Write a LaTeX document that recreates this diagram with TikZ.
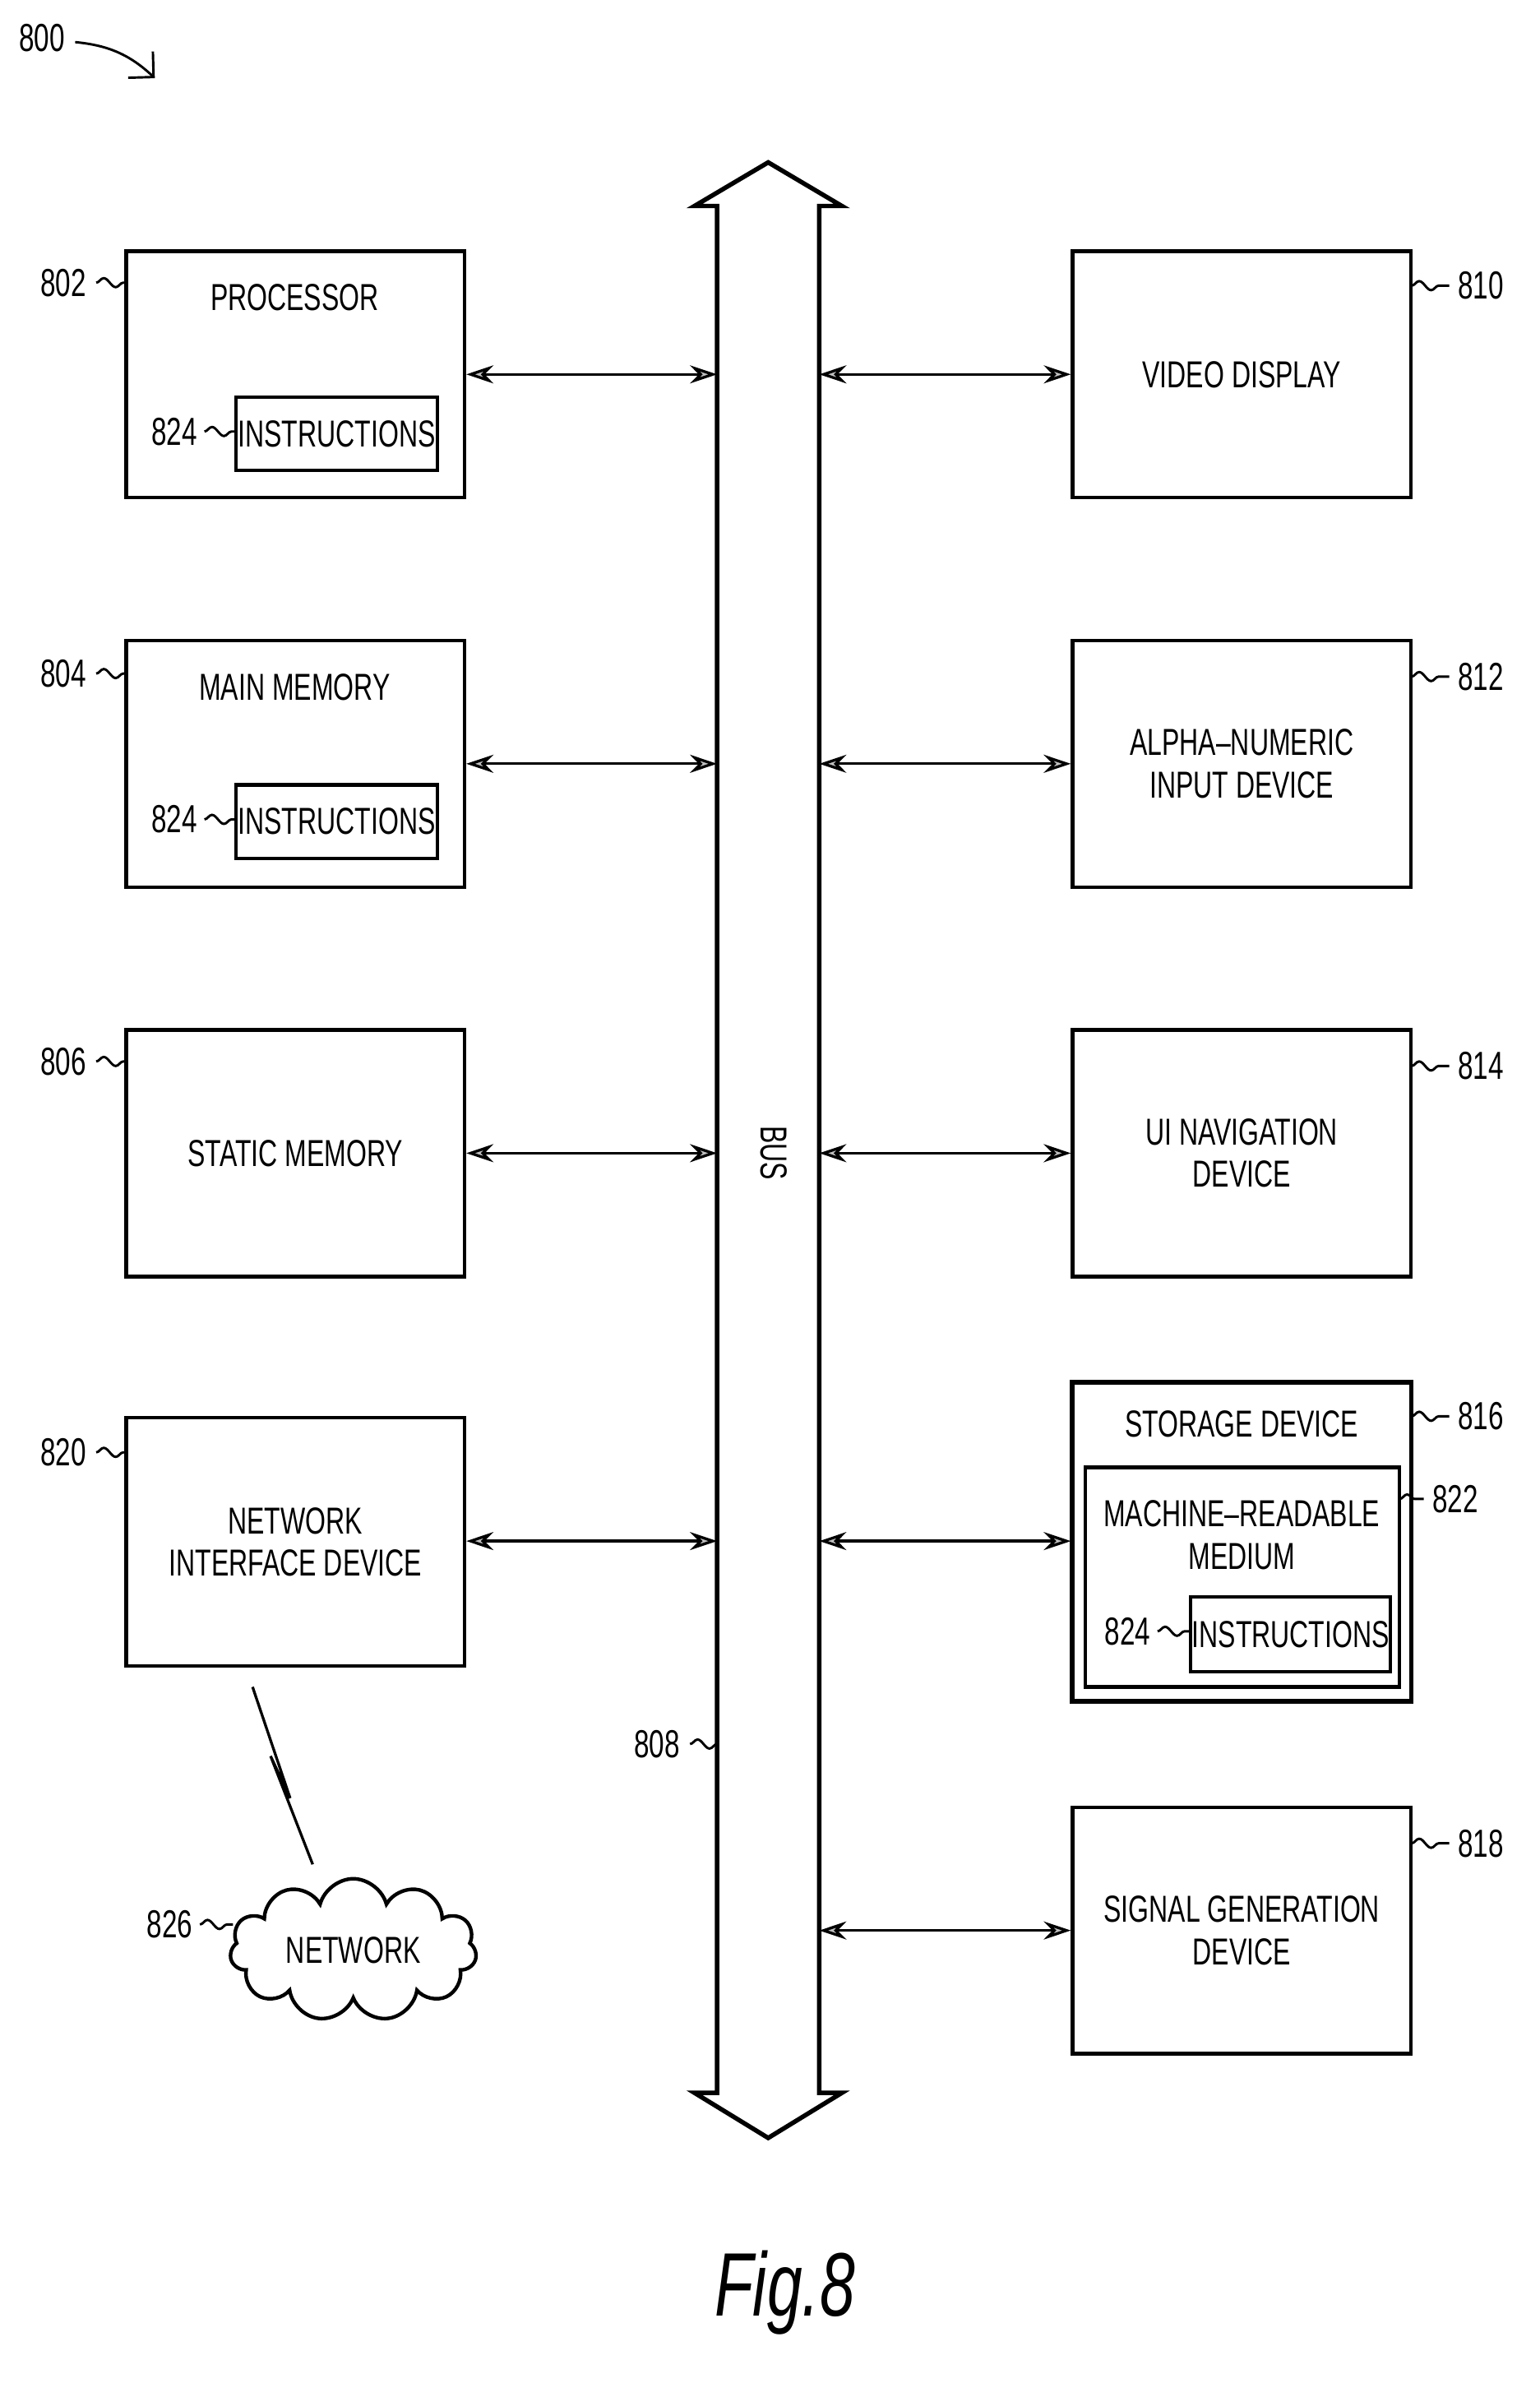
\documentclass[tikz,border=0pt]{standalone}
\usepackage{fontspec}
\setmainfont[FakeStretch=0.7]{Liberation Sans}
\usetikzlibrary{shapes.symbols,decorations.pathmorphing,arrows.meta}
\begin{document}
\begin{tikzpicture}[x=0.5pt,y=-0.5pt,line width=1.2pt,
 box/.style={draw,minimum width=112.5pt,minimum height=82pt,inner sep=0pt,align=center},
 t/.style={font=\fontsize{12.5}{14}\selectfont,align=center},
 lbl/.style={font=\fontsize{13}{14}\selectfont},
 sq/.style={decorate,decoration={snake,amplitude=1.5pt,segment length=8pt},line width=0.8pt},
 conn/.style={{Stealth[length=9pt,width=6pt,fill=gray!50]}-{Stealth[length=9pt,width=6pt,fill=gray!50]},line width=0.9pt}]
\useasboundingbox (0,0) rectangle (1024,1585);
% bus
\draw[line width=1.5pt] (477,137) -- (462,137) -- (511,108) -- (560,137) -- (545,137) -- (545,1392) -- (560,1392) -- (511,1422) -- (462,1392) -- (477,1392) -- cycle;
\node[rotate=-90,t] (bus) at (515,767) {BUS};
\coordinate (bl) at (477,0); \coordinate (br) at (545,0);
% left boxes
\node[box] (p) at (196.5,249) {}; \node[t] at (196,198) {PROCESSOR};
\node[draw,minimum width=67pt,minimum height=24.5pt,inner sep=0pt,t] (pi) at (224,288.5) {INSTRUCTIONS};
\node[box] (mm) at (196.5,508) {}; \node[t] at (196,457) {MAIN MEMORY};
\node[draw,minimum width=67pt,minimum height=24.5pt,inner sep=0pt,t] (mi) at (224,546.5) {INSTRUCTIONS};
\node[box,t] (sm) at (196.5,767) {STATIC MEMORY};
\node[box,t,minimum height=82.5pt] (nid) at (196.5,1025.5) {NETWORK\\INTERFACE DEVICE};
% right boxes
\node[box,t] (vd) at (826,249) {VIDEO DISPLAY};
\node[box,t] (an) at (826,508) {ALPHA--NUMERIC\\INPUT DEVICE};
\node[box,t] (ui) at (826,767) {UI NAVIGATION\\DEVICE};
\node[box,minimum height=105.5pt] (sd) at (826,1025.5) {};
\node[draw,minimum width=113pt,minimum height=106.5pt,inner sep=0pt] at (826,1025.5) {};
\node[t] at (826,947) {STORAGE DEVICE};
\node[draw,minimum width=104.5pt,minimum height=73pt,inner sep=0pt] (mr) at (826.5,1049) {};
\node[t] at (826,1021) {MACHINE--READABLE\\MEDIUM};
\node[draw,minimum width=66.5pt,minimum height=25pt,inner sep=0pt,t] (si) at (858.5,1087) {INSTRUCTIONS};
\node[box,t] (sg) at (826,1284) {SIGNAL GENERATION\\DEVICE};
% connectors
\foreach \n/\y in {p/249,mm/508,sm/767,nid/1025}{\draw[conn] (\n.east |- 0,\y) -- (bl |- 0,\y);}
\foreach \n/\y in {vd/249,an/508,ui/767,sd/1025,sg/1284}{\draw[conn] (br |- 0,\y) -- (\n.west |- 0,\y);}
% network
\node[cloud,draw,cloud puffs=11,aspect=2.2,minimum width=82pt,minimum height=40pt,t] (net) at (235,1297) {NETWORK};
\draw[line width=0.9pt] (168,1122) -- (193,1196) -- (180,1168) -- (208,1240);
% labels
\node[lbl] (l800) at (28,25) {800};
\draw[line width=0.8pt,-{Straight Barb[length=6pt]}] (50,28) .. controls (70,30) and (85,35) .. (103,52);
\foreach \x/\y/\s/\ex in {42/188/802/84,42/448/804/84,42/706/806/84,42/966/820/84}{
 \node[lbl] at (\x,\y) {\s}; \draw[sq] (\x+22,\y) -- (\ex,\y);}
\foreach \x/\y/\s/\ex in {116/287/824/157,116/545/824/157,750/1085/824/792,113/1280/826/155}{
 \node[lbl] at (\x,\y) {\s}; \draw[sq] (\x+20,\y) -- (\ex,\y);}
\foreach \x/\y/\s/\ex in {985/190/810/939,985/450/812/939,985/709/814/939,985/942/816/939,985/1226/818/939,968/997/822/931}{
 \node[lbl] at (\x,\y) {\s}; \draw[sq] (\ex,\y) -- (\x-21,\y);}
\node[lbl] at (437,1160) {808}; \draw[sq] (459,1160) -- (477,1160);
\node[font=\fontsize{30}{32}\selectfont\itshape] at (522,1525) {Fig.8};
\end{tikzpicture}
\end{document}
